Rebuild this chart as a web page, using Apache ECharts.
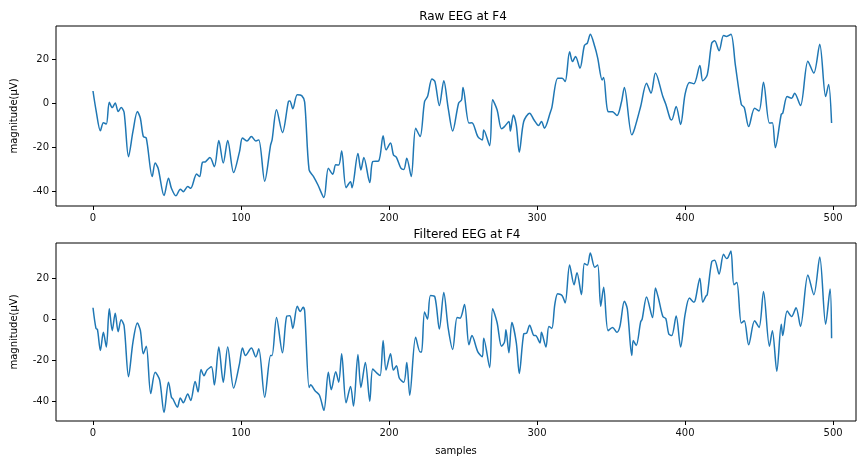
<!DOCTYPE html>
<html>
<head>
<meta charset="utf-8">
<script src="https://cdn.jsdelivr.net/npm/echarts@6/dist/echarts.min.js"></script>
<style>
  html, body { margin: 0; padding: 0; background: #fff; }
  #eeg-chart { width: 857px; height: 457px; }
</style>
</head>
<body>
<div id="eeg-chart"></div>
<script>
// sample index and value (µV) at turning points
const rawIdx = [0, 2, 5, 7, 9, 11, 13, 15, 17, 19, 21, 24, 27, 30, 32, 34, 36, 40, 42, 44, 48, 51, 53, 56, 59, 61, 64, 66, 70, 72, 74, 76, 79, 82, 85, 88, 91, 95, 99,
  101, 104, 107, 110, 112, 116, 120, 121, 124, 128, 132, 133, 135, 138, 141, 143, 146, 149, 152, 156, 159, 162, 164, 166, 168, 171, 174, 175, 179, 181, 183, 187, 189, 193, 196, 198,
  201, 203, 205, 208, 210, 212, 215, 218, 221, 224, 226, 229, 231, 234, 237, 240, 243, 247, 249, 250, 254, 256, 260, 263, 264, 268, 270, 273, 276, 278, 281, 282, 284, 286, 288, 291, 295, 298,
  301, 303, 305, 309, 310, 314, 317, 319, 322, 324, 326, 329, 332, 334, 336, 339, 341, 344, 345, 348, 351, 354, 357, 359, 364, 366, 370, 374, 377, 380, 385, 387, 390, 391, 394, 397,
  400, 403, 406, 410, 412, 415, 418, 420, 423, 426, 428, 431, 434, 438, 440, 443, 447, 450, 453, 457, 459, 461, 465, 466, 469, 472, 474, 478, 483, 487, 491, 495, 497, 499];
const rawVal = [5.5, -3, -12.5, -8.8, -9.4, 0.4, -2, 0.1, -3.8, -2, -4.1, -24.2, -12.8, -3.8, -6.8, -15.1, -15.8, -33.2, -27.1, -29.4, -41.8, -33.9, -38.5, -41.9, -38.9, -40, -37.7, -38.5, -32, -33.2, -26.7, -26.5, -24.6, -28.7, -16.9, -27.1, -16.9, -31.4, -21.9,
  -15.8, -17.1, -15.1, -17.1, -16.6, -35.3, -18.9, -16.6, -3, -13.3, 0.7, 1.0, -2.5, 3.8, 3.4, 0.5, -30.2, -33.2, -37, -42.7, -29.4, -32.1, -27.9, -28, -21.6, -38.2, -35.5, -38.2, -22.8, -30.2, -24.6, -35.9, -26.4, -26.1, -14.7, -21.1,
  -18, -23.4, -24.5, -29.4, -30, -24.9, -33.2, -11.3, -15.1, 0.7, 3, 10.9, 9.8, -1.1, 10.1, -2.3, -12.6, 0, 1.5, 7.1, -9, -8.9, -15.1, -16.6, -12.1, -19.2, 1.5, -3, -11.6, -10.6, -8.3, -12.6, -5.3, -10, -22.2, -8.3, -4.5, -7.6,
  -10.1, -8.3, -11.3, -4.1, -2, 11.3, 11.3, 9.8, 23.2, 18.8, 21.1, 15.8, 26.1, 27.2, 31.2, 25.6, 20.4, 10.5, 11.6, -3.8, -3.9, -5.6, 0.4, 7.1, -14.3, -11.3, -1.5, 9, 4.5, 13.6, 3, -0.5, -7.2, -7.6, -1.5, -9.6,
  4, 9.4, 8.8, 17, 10.1, 12.8, 27.1, 28.2, 23.7, 30.6, 30.2, 31.2, 17.2, -0.5, -2, -10.6, -2.3, -3.5, 9.5, -9, -8.9, -20.1, -5, -4.6, 3, 2.2, 4.5, -1.1, 19, 13.6, 26.7, 3, 8.5, -9];

const filtIdx = [0, 2, 3, 5, 7, 9, 11, 13, 15, 17, 19, 21, 24, 27, 30, 32, 34, 36, 39, 42, 45, 48, 51, 53, 54, 57, 59, 61, 64, 66, 69, 71, 73, 75, 77, 80, 82, 85, 88, 91, 95, 99,
  101, 103, 107, 110, 112, 116, 120, 121, 124, 128, 131, 133, 135, 138, 140, 142, 143, 146, 147, 150, 153, 156, 159, 161, 164, 166, 168, 171, 174, 176, 179, 181, 184, 187, 189, 192, 194, 196, 198,
  201, 203, 205, 207, 210, 212, 214, 218, 221, 222, 224, 226, 228, 231, 234, 237, 240, 243, 246, 248, 251, 254, 256, 260, 263, 264, 268, 270, 273, 276, 278, 279, 281, 283, 286, 288, 291, 293, 295, 298, 299,
  302, 303, 306, 308, 310, 312, 314, 317, 319, 322, 325, 327, 330, 332, 334, 336, 339, 341, 343, 345, 348, 351, 354, 356, 359, 361, 364, 365, 367, 370, 371, 374, 378, 380, 382, 385, 387, 389, 391, 394, 397,
  400, 403, 406, 407, 410, 412, 414, 415, 418, 420, 423, 426, 428, 429, 431, 433, 435, 438, 440, 443, 447, 450, 453, 457, 459, 462, 465, 466, 469, 472, 475, 478, 483, 487, 491, 495, 498, 499];
const filtVal = [5.6, -4.5, -5, -15.3, -6.4, -13.6, 5.1, -5.6, 2.9, -6.1, -0.3, -3.2, -28.1, -11.2, -1.9, -5.5, -16.9, -13.2, -36.4, -25.9, -29.7, -45.7, -30.8, -38.2, -39, -43, -38.5, -40.9, -36.6, -39.8, -30.5, -35.6, -24.6, -27.6, -24.9, -23.3, -32.1, -13.6, -30.8, -13.6, -33.7, -21.7,
  -14.1, -17.7, -14.1, -18.4, -14.4, -38.2, -17.7, -17.7, 0.8, -16.4, 1.6, 1.7, -4.5, 6.4, 3.8, 5.9, 4, -33.4, -32.1, -35, -37.2, -44.6, -26, -34.5, -25.7, -30.8, -16.9, -40.9, -32.9, -42.5, -17.3, -33.4, -21.2, -40.1, -24.4, -26.5, -27.5, -10.4, -24.9,
  -16.9, -24.9, -22.8, -28.9, -30.8, -21.2, -37.2, -8.8, -16, -16, 3.5, 0, 11.6, 10.9, -4.8, 13.1, -4.5, -14.8, 0.8, 0.5, 7.2, -12.5, -8, -16, -18.4, -9.3, -23.7, 5.1, -1.6, -13.2, -11.2, -5.2, -16.4, -1.6, -11.6, -26.5, -7.2, -6.8, -2.9, -8, -8,
  -11.6, -6.4, -13.6, -3.5, -4.5, 7.2, 12.5, 11.5, 8, 26.5, 16.9, 22.8, 12, 27.3, 26.5, 32.4, 25.4, 26.5, 6.4, 15.7, -5.6, -4, -6.4, -3.5, 8.8, 5.1, -17.7, -10.4, -12.8, -1.3, 0, 10.9, 0.8, 15.3, 10.4, 1.3, 0.3, -7.2, -8, 1.6, -13.6,
  2.2, 10.4, 8.3, 9.6, 20.1, 8.3, 11.2, 12, 28.1, 28.9, 22.1, 31.8, 29.7, 30.2, 33.4, 16.9, 18, -1.9, -0.8, -12.5, -0.8, -4, 13.6, -13.2, -5.6, -25.4, -2.4, -8, 4, 1.3, 5.6, -3.5, 21.7, 12, 30.5, -2.4, 14.8, -9.3];

const xTicks = [0, 100, 200, 300, 400, 500];
const yTicks = [-40, -20, 0, 20];

const chart = echarts.init(document.getElementById("eeg-chart"));
const font = "DejaVu Sans";
const lineColor = "#1f77b4";

function pairs(idx, val) {
  return idx.map((x, i) => [x, val[i]]);
}

function xAxisFor(gridIndex, withName) {
  return {
    type: "value",
    gridIndex: gridIndex,
    min: -25,
    max: 515.5,
    name: withName ? "samples" : "",
    nameLocation: "middle",
    nameGap: 25,
    nameTextStyle: { fontFamily: font, fontSize: 10, color: "#000" },
    axisLine: { show: false, onZero: false },
    axisTick: { show: true, inside: false, length: 4, customValues: xTicks, lineStyle: { color: "#000" } },
    axisLabel: { customValues: xTicks, margin: 7, fontFamily: font, fontSize: 10, color: "#111" },
    splitLine: { show: false },
  };
}

function yAxisFor(gridIndex, min, max) {
  return {
    type: "value",
    gridIndex: gridIndex,
    min: min,
    max: max,
    name: "magnitude(\u03bcV)",
    nameLocation: "middle",
    nameRotate: 90,
    nameGap: 37,
    nameTextStyle: { fontFamily: font, fontSize: 10, color: "#000" },
    axisLine: { show: false, onZero: false },
    axisTick: { show: true, inside: false, length: 4, customValues: yTicks, lineStyle: { color: "#000" } },
    axisLabel: { customValues: yTicks, margin: 7, fontFamily: font, fontSize: 10, color: "#111" },
    splitLine: { show: false },
  };
}

const option = {
  animation: false,
  backgroundColor: "#fff",
  title: [
    { text: "Raw EEG at F4", left: 458, top: 6, textAlign: "center",
      textStyle: { fontFamily: font, fontSize: 12, fontWeight: "normal", color: "#000" } },
    { text: "Filtered EEG at F4", left: 462, top: 224, textAlign: "center",
      textStyle: { fontFamily: font, fontSize: 12, fontWeight: "normal", color: "#000" } },
  ],
  grid: [
    { left: 56, top: 26, width: 800, height: 180, show: true, borderColor: "#000", borderWidth: 1, backgroundColor: "transparent" },
    { left: 56, top: 243, width: 800, height: 181, show: true, borderColor: "#000", borderWidth: 1, backgroundColor: "transparent" },
  ],
  xAxis: [xAxisFor(0, false), xAxisFor(1, true)],
  yAxis: [yAxisFor(0, -46.5, 34.9), yAxisFor(1, -49.8, 37.3)],
  series: [
    {
      type: "line", xAxisIndex: 0, yAxisIndex: 0,
      data: pairs(rawIdx, rawVal),
      showSymbol: false, smooth: 0.3,
      lineStyle: { color: lineColor, width: 1.5 },
    },
    {
      type: "line", xAxisIndex: 1, yAxisIndex: 1,
      data: pairs(filtIdx, filtVal),
      showSymbol: false, smooth: 0.3,
      lineStyle: { color: lineColor, width: 1.5 },
    },
  ],
};

chart.setOption(option);
</script>
</body>
</html>
